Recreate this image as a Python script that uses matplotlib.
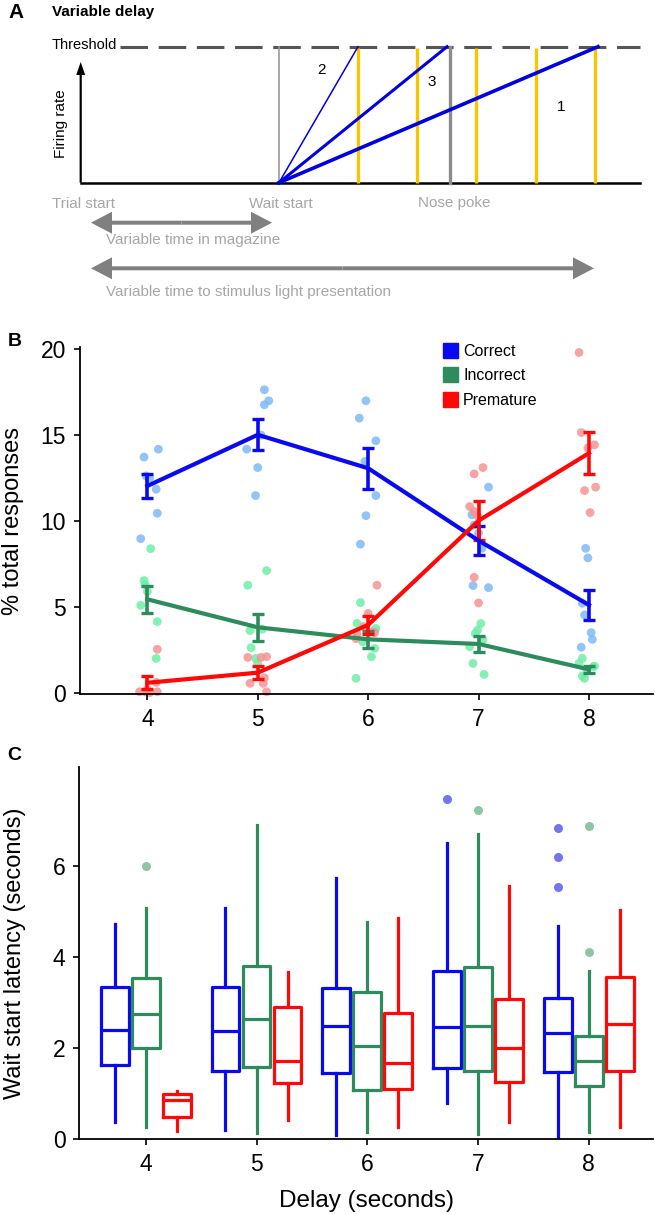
import matplotlib
matplotlib.use("Agg")
import matplotlib.pyplot as plt
from matplotlib.patches import FancyArrow, Patch
import numpy as np

plt.rcParams['font.family'] = ['Liberation Sans', 'DejaVu Sans']

# ---------------- Panel A (schematic) data ----------------
ramp_labels = ['1', '2', '3']
ramp_threshold_x = [598, 358, 447]          # where each ramp reaches threshold
ramp_widths = [2.6, 1.1, 2.2]
ramp_label_xy = [(561, 107), (322, 70), (432, 82)]
cue_x = [358, 417, 476, 536, 595]            # stimulus light presentations
wait_start_x = 279
nose_poke_x = 450
event_labels = ['Trial start', 'Wait start', 'Nose poke']
event_label_x = [52, 249, 418]
span_labels = ['Variable time in magazine', 'Variable time to stimulus light presentation']
span_ranges = [(91, 272), (91, 594)]

# ---------------- Panel B data ----------------
delays = [4, 5, 6, 7, 8]
series = ['Correct', 'Incorrect', 'Premature']
mean_correct = [12.04, 15.02, 13.07, 8.86, 5.11]
sem_correct = [0.70, 0.90, 1.20, 0.85, 0.90]
mean_incorrect = [5.44, 3.81, 3.11, 2.84, 1.36]
sem_incorrect = [0.80, 0.80, 0.50, 0.45, 0.20]
mean_premature = [0.58, 1.17, 3.95, 10.02, 13.95]
sem_premature = [0.37, 0.37, 0.52, 1.13, 1.22]

# individual subjects (x jittered delay, y value)
dots_correct_x = [3.97, 4.10, 3.99, 4.02, 4.08, 4.09, 3.94,
                  5.06, 5.10, 5.06, 4.90, 5.03, 5.00, 4.98,
                  5.98, 5.92, 6.07, 5.97, 6.07, 5.98, 5.93,
                  6.94, 7.09, 6.96, 7.03, 6.95, 7.09, 7.00,
                  7.97, 7.99, 7.94, 7.96, 8.02, 8.03, 7.93]
dots_correct_y = [13.72, 14.18, 12.62, 12.50, 11.85, 10.45, 8.97,
                  17.64, 17.00, 16.77, 14.18, 15.00, 13.11, 11.48,
                  17.00, 15.99, 14.67, 13.46, 11.48, 10.31, 8.65,
                  10.36, 11.97, 9.77, 8.41, 6.24, 6.12, 9.30,
                  8.41, 7.85, 5.21, 4.53, 3.50, 3.11, 2.65]
dots_incorrect_x = [3.97, 3.98, 4.03, 3.94, 4.09, 4.08, 4.00,
                    5.08, 4.91, 4.93, 4.94, 4.98, 5.00, 5.04,
                    5.93, 5.90, 6.07, 5.95, 6.06, 6.03, 5.89,
                    7.02, 6.99, 7.04, 6.92, 6.95, 7.05, 6.97,
                    7.94, 7.91, 8.04, 7.98, 7.94, 7.96, 8.05]
dots_incorrect_y = [6.53, 6.30, 8.39, 5.09, 4.14, 2.00, 5.90,
                    7.11, 6.26, 3.62, 2.62, 2.00, 1.71, 3.70,
                    5.25, 4.04, 3.75, 2.97, 2.58, 2.10, 0.84,
                    4.03, 3.64, 3.10, 2.68, 1.71, 1.07, 3.45,
                    2.00, 1.71, 1.52, 1.36, 0.97, 0.84, 1.55]
dots_premature_x = [4.09, 3.93, 3.98, 4.00, 4.09, 4.08, 4.02,
                    4.91, 5.03, 5.08, 4.93, 5.05, 5.08, 5.06,
                    6.08, 6.00, 5.90, 6.04, 5.89, 6.06, 5.96,
                    6.96, 7.04, 6.92, 6.96, 6.96, 7.00, 6.99,
                    7.91, 7.93, 8.05, 7.99, 7.96, 8.06, 8.01]
dots_premature_y = [2.53, 0.06, 0.06, 0.20, 0.06, 0.60, 0.00,
                    2.06, 2.06, 2.10, 0.55, 0.55, 0.06, 0.87,
                    6.26, 4.62, 3.42, 3.55, 3.15, 3.50, 3.85,
                    12.74, 13.11, 10.84, 10.55, 6.72, 5.23, 10.30,
                    19.81, 15.15, 14.43, 14.25, 11.77, 11.97, 10.49]

# ---------------- Panel C data (box plot summaries) ----------------
# per delay: [whislo, q1, med, q3, whishi]
box_correct = [[0.37, 1.63, 2.40, 3.35, 4.73],
               [0.20, 1.51, 2.39, 3.35, 5.09],
               [0.09, 1.45, 2.49, 3.33, 5.74],
               [0.80, 1.56, 2.46, 3.71, 6.52],
               [0.04, 1.49, 2.34, 3.11, 4.69]]
box_incorrect = [[0.26, 2.00, 2.75, 3.55, 5.08],
                 [0.13, 1.60, 2.64, 3.82, 6.91],
                 [0.15, 1.08, 2.06, 3.24, 4.78],
                 [0.12, 1.51, 2.48, 3.78, 6.72],
                 [0.16, 1.17, 1.73, 2.27, 3.70]]
box_premature = [[0.18, 0.48, 0.86, 1.00, 1.06],
                 [0.42, 1.23, 1.73, 2.90, 3.68],
                 [0.26, 1.11, 1.67, 2.78, 4.86],
                 [0.39, 1.27, 2.00, 3.08, 5.57],
                 [0.26, 1.51, 2.54, 3.57, 5.05]]
fliers_correct = [[], [], [], [7.48], [6.85, 6.20, 5.55]]
fliers_incorrect = [[6.01], [], [], [7.24], [6.89, 4.11]]
fliers_premature = [[], [], [], [], []]

# ---------------- styling ----------------
c_blue, c_green, c_red = '#0a0af0', '#2e8b5c', '#ff0808'
dot_blue, dot_green, dot_red = '#7fbaf6', '#6eeea6', '#f59393'
flier_blue, flier_green = '#7474ee', '#8fc5a6'

W, H = 655, 1214
fig = plt.figure(figsize=(W / 100, H / 100), dpi=100)

# ======== Panel A ========
axA = fig.add_axes([0, 1 - 300 / H, 1, 300 / H])
axA.set_xlim(0, W)
axA.set_ylim(300, 0)
axA.axis('off')

thr_y, base_y = 46.7, 182.7
axA.text(8, 13, 'A', fontsize=15, fontweight='bold', va='center', ha='left')
axA.text(52, 12, 'Variable delay', fontsize=11, fontweight='bold', va='center', ha='left')
axA.text(52, 45, 'Threshold', fontsize=10.5, va='center', ha='left')
axA.plot([120, 640], [thr_y, thr_y], color='#555555', lw=2.2, dashes=(9, 3.5), solid_capstyle='butt')
# baseline and firing-rate axis
axA.plot([80.7, 640], [base_y, base_y], color='black', lw=1.8)
axA.add_patch(FancyArrow(80.7, base_y, 0, -(base_y - 62), width=2.2, head_width=9,
                         head_length=13, length_includes_head=True, color='black', lw=0))
axA.text(61, 124, 'Firing rate', fontsize=11, rotation=90, va='center', ha='center')
# event verticals
axA.plot([wait_start_x, wait_start_x], [thr_y, base_y], color='#9a9a9a', lw=1.2)
axA.plot([nose_poke_x, nose_poke_x], [thr_y, base_y], color='#8c8c8c', lw=2.4)
for cx in cue_x:
    axA.plot([cx, cx], [48, base_y], color='#f7c600', lw=2.4, solid_capstyle='butt')
for lab, ex, lw, (lx, ly) in zip(ramp_labels, ramp_threshold_x, ramp_widths, ramp_label_xy):
    axA.plot([wait_start_x, ex], [base_y, thr_y], color='#0000e0', lw=lw)
    axA.text(lx, ly, lab, fontsize=11, va='center', ha='center')
for lab, lx in zip(event_labels, event_label_x):
    axA.text(lx, 203.5, lab, fontsize=11, color='#a6a6a6', va='center', ha='left')
for (x0, x1), yy, lab, ty in zip(span_ranges, [222.7, 268.3], span_labels, [240, 291.7]):
    mid = (x0 + x1) / 2
    for a, b in [(mid, x1), (mid, x0)]:
        axA.add_patch(FancyArrow(a, yy, b - a, 0, width=4, head_width=22, head_length=21,
                                 length_includes_head=True, color='#808080', lw=0))
    axA.text(106, ty, lab, fontsize=11, color='#a6a6a6', va='center', ha='left')

# ======== Panel B ========
axB = fig.add_axes([80 / W, 1 - 694.3 / H, (653 - 80) / W, (694.3 - 347) / H])
for dx, dy, dc in [(dots_correct_x, dots_correct_y, dot_blue),
                   (dots_incorrect_x, dots_incorrect_y, dot_green),
                   (dots_premature_x, dots_premature_y, dot_red)]:
    axB.scatter(dx, dy, s=40, color=dc, alpha=0.85, edgecolors='none', zorder=1, clip_on=False)
for m, e, c in [(mean_incorrect, sem_incorrect, c_green),
                (mean_correct, sem_correct, c_blue),
                (mean_premature, sem_premature, c_red)]:
    axB.errorbar(delays, m, yerr=e, color=c, lw=3, elinewidth=2.6, capsize=4.5,
                 capthick=2.4, zorder=3)
axB.set_xlim(3.39, 8.58)
axB.set_ylim(-0.09, 20.13)
axB.set_xticks(delays)
axB.set_yticks([0, 5, 10, 15, 20])
axB.spines['top'].set_visible(False)
axB.spines['right'].set_visible(False)
for sp in ['left', 'bottom']:
    axB.spines[sp].set_linewidth(1.3)
axB.tick_params(labelsize=16.5, length=4, width=1.2, pad=6)
axB.set_ylabel('% total responses', fontsize=17, labelpad=12)
handles = [Patch(color=c_blue), Patch(color=c_green), Patch(color=c_red)]
axB.legend(handles, series, loc='upper left', bbox_to_anchor=(0.62, 1.035), frameon=False,
           fontsize=11.5, handlelength=0.9, handleheight=1.05, handletextpad=0.35,
           labelspacing=0.55, borderpad=0)
fig.text(8 / W, 1 - 341 / H, 'B', fontsize=14, fontweight='bold', va='center', ha='left')

# ======== Panel C ========
axC = fig.add_axes([79.3 / W, 1 - 1139.3 / H, (653 - 79.3) / W, (1139.3 - 766.7) / H])
offsets = [-0.28, 0.0, 0.28]
for boxes, fl, c, fc, off in [(box_correct, fliers_correct, c_blue, flier_blue, offsets[0]),
                              (box_incorrect, fliers_incorrect, c_green, flier_green, offsets[1]),
                              (box_premature, fliers_premature, c_red, c_red, offsets[2])]:
    stats = []
    for b, f in zip(boxes, fl):
        stats.append(dict(whislo=b[0], q1=b[1], med=b[2], q3=b[3], whishi=b[4], fliers=f))
    axC.bxp(stats, positions=[d + off for d in delays], widths=0.25, showcaps=False,
            manage_ticks=False,
            boxprops=dict(color=c, lw=2.3),
            whiskerprops=dict(color=c, lw=2.3),
            medianprops=dict(color=c, lw=2.3),
            flierprops=dict(marker='o', markerfacecolor=fc, markeredgecolor='none',
                            markersize=6.5))
axC.set_xlim(3.40, 8.58)
axC.set_ylim(0, 8.19)
axC.set_xticks(delays)
axC.set_yticks([0, 2, 4, 6])
axC.spines['top'].set_visible(False)
axC.spines['right'].set_visible(False)
for sp in ['left', 'bottom']:
    axC.spines[sp].set_linewidth(1.3)
axC.tick_params(labelsize=16.5, length=4, width=1.2, pad=6)
axC.set_ylabel('Wait start latency (seconds)', fontsize=17, labelpad=19)
axC.set_xlabel('Delay (seconds)', fontsize=17.5, labelpad=10)
fig.text(7 / W, 1 - 755 / H, 'C', fontsize=14, fontweight='bold', va='center', ha='left')

fig.savefig('out.png', dpi=100)
